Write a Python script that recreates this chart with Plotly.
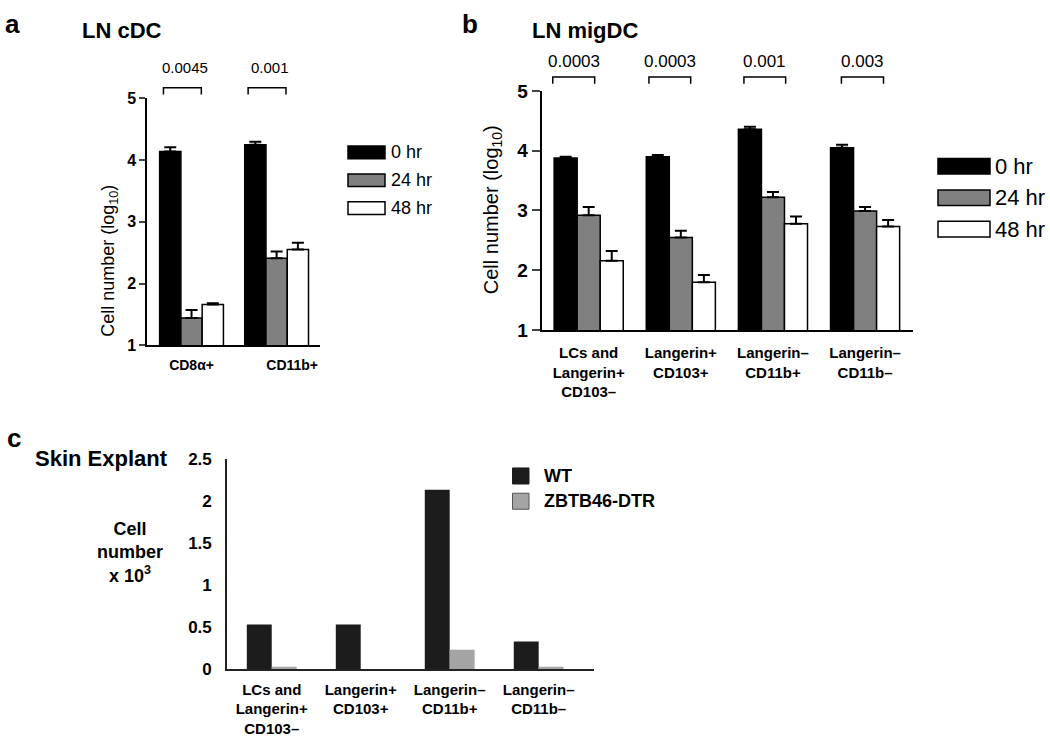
import plotly.graph_objects as go

W, H = 1050, 745
FONT = "Liberation Sans, Arial, sans-serif"

# ---------------- data ----------------
a_categories = ["CD8α+", "CD11b+"]
a_series = ["0 hr", "24 hr", "48 hr"]
a_values = {"0 hr": [4.14, 4.25], "24 hr": [1.44, 2.41], "48 hr": [1.66, 2.55]}
a_errors = {"0 hr": [0.07, 0.05], "24 hr": [0.13, 0.11], "48 hr": [0.02, 0.11]}
a_pvalues = ["0.0045", "0.001"]

b_categories = ["LCs and<br>Langerin+<br>CD103–", "Langerin+<br>CD103+",
                "Langerin–<br>CD11b+", "Langerin–<br>CD11b–"]
b_series = ["0 hr", "24 hr", "48 hr"]
b_values = {"0 hr": [3.88, 3.90, 4.36, 4.05],
            "24 hr": [2.92, 2.55, 3.22, 2.99],
            "48 hr": [2.16, 1.80, 2.78, 2.73]}
b_errors = {"0 hr": [0.02, 0.03, 0.04, 0.05],
            "24 hr": [0.14, 0.11, 0.09, 0.07],
            "48 hr": [0.16, 0.12, 0.12, 0.11]}
b_pvalues = ["0.0003", "0.0003", "0.001", "0.003"]

c_categories = ["LCs and<br>Langerin+<br>CD103–", "Langerin+<br>CD103+",
                "Langerin–<br>CD11b+", "Langerin–<br>CD11b–"]
c_series = ["WT", "ZBTB46-DTR"]
c_values = {"WT": [0.53, 0.53, 2.13, 0.33], "ZBTB46-DTR": [0.03, 0.0, 0.23, 0.03]}

y_ticks_log = [1, 2, 3, 4, 5]
y_ticks_c = [0, 0.5, 1, 1.5, 2, 2.5]
y_ticks_c_text = ["0", "0.5", "1", "1.5", "2", "2.5"]

# ---------------- styles ----------------
time_colors = {"0 hr": "#000000", "24 hr": "#808080", "48 hr": "#ffffff"}
c_colors = {"WT": "#1c1c1c", "ZBTB46-DTR": "#a4a4a4"}


def dom_x(x0, x1):
    return [x0 / W, x1 / W]


def dom_y(ytop, ybot):
    return [1 - ybot / H, 1 - ytop / H]


fig = go.Figure()

bw = 0.25
offs = [-0.375, -0.125, 0.125]
for i, s in enumerate(a_series):
    fig.add_trace(go.Bar(
        x=list(range(len(a_categories))), y=a_values[s], name=s,
        width=bw, offset=offs[i], xaxis="x", yaxis="y",
        marker=dict(color=time_colors[s], line=dict(color="black", width=1.5)),
        error_y=dict(type="data", array=a_errors[s], arrayminus=[0] * len(a_categories),
                     symmetric=False, color="black", thickness=2, width=6),
        showlegend=False))

for i, s in enumerate(b_series):
    fig.add_trace(go.Bar(
        x=list(range(len(b_categories))), y=b_values[s], name=s,
        width=bw, offset=offs[i], xaxis="x2", yaxis="y2",
        marker=dict(color=time_colors[s], line=dict(color="black", width=1.5)),
        error_y=dict(type="data", array=b_errors[s], arrayminus=[0] * len(b_categories),
                     symmetric=False, color="black", thickness=2, width=6),
        showlegend=False))

cw = 0.28
c_offs = [-0.28, 0.0]
for i, s in enumerate(c_series):
    fig.add_trace(go.Bar(
        x=list(range(len(c_categories))), y=c_values[s], name=s,
        width=cw, offset=c_offs[i], xaxis="x3", yaxis="y3",
        marker=dict(color=c_colors[s], line=dict(width=0)),
        showlegend=False))

axis_common = dict(showgrid=False, zeroline=False, showline=True, linecolor="black")

a_ticktext = [a_categories[0], "\u00a0" * 8 + a_categories[1]]

fig.update_layout(
    width=W, height=H, margin=dict(l=0, r=0, t=0, b=0),
    paper_bgcolor="white", plot_bgcolor="white",
    font=dict(family=FONT, color="black"),
    showlegend=False,
    xaxis=dict(domain=dom_x(147.3, 320), range=[-0.52, 1.51], anchor="y",
               tickmode="array", tickvals=list(range(len(a_categories))), ticktext=a_ticktext,
               ticks="", linewidth=2, ticklabelstandoff=6,
               tickfont=dict(size=14, weight="bold", family=FONT), **axis_common),
    yaxis=dict(domain=dom_y(91, 345), range=[1, 5], anchor="x",
               tickvals=y_ticks_log, ticks="outside", ticklen=6, tickwidth=2,
               linewidth=2, tickfont=dict(size=16, weight="bold", family=FONT), **axis_common),
    xaxis2=dict(domain=dom_x(541.7, 913), range=[-0.51, 3.52], anchor="y2",
                tickmode="array", tickvals=list(range(len(b_categories))), ticktext=b_categories,
                ticks="", linewidth=2, ticklabelstandoff=8,
                tickfont=dict(size=15, weight="bold", family=FONT), **axis_common),
    yaxis2=dict(domain=dom_y(83.3, 329.3), range=[1, 5], anchor="x2",
                tickvals=y_ticks_log, ticks="outside", ticklen=8, tickwidth=2,
                linewidth=2, tickfont=dict(size=19, weight="bold", family=FONT), **axis_common),
    xaxis3=dict(domain=dom_x(226.7, 594.3), range=[-0.506, 3.625], anchor="y3",
                tickmode="array", tickvals=list(range(len(c_categories))), ticktext=c_categories,
                ticks="", linewidth=1.5, linecolor="#222222", ticklabelstandoff=6,
                tickfont=dict(size=15, weight="bold", family=FONT),
                showgrid=False, zeroline=False, showline=True),
    yaxis3=dict(domain=dom_y(461.7, 678.3), range=[0, 2.5], anchor="x3",
                tickvals=y_ticks_c, ticktext=y_ticks_c_text, ticks="",
                ticklabelstandoff=10, linewidth=1.5, linecolor="#222222",
                tickfont=dict(size=17, weight="bold", family=FONT),
                showgrid=False, zeroline=False, showline=True),
)

annotations = []
shapes = []


def text(x, y, s, size, bold=False, xanchor="center", yanchor="middle", textangle=0):
    annotations.append(dict(x=x / W, y=1 - y / H, xref="paper", yref="paper", text=s,
                            showarrow=False, xanchor=xanchor, yanchor=yanchor,
                            textangle=textangle,
                            font=dict(size=size, family=FONT, color="black",
                                      weight="bold" if bold else "normal")))


# panel letters & titles
text(12, 14, "a", 26, bold=True)
text(470, 14, "b", 26, bold=True)
text(14, 440, "c", 26, bold=True)
text(80, 21, "LN cDC", 22, bold=True, xanchor="left")
text(530, 21, "LN migDC", 22, bold=True, xanchor="left")
text(33, 462, "Skin Explant", 22, bold=True, xanchor="left")

# y-axis titles
text(110, 258, "Cell number (log<sub>10</sub>)", 18, textangle=-90)
text(492, 206, "Cell number (log<sub>10</sub>)", 20, textangle=-90)
text(130, 558, "Cell<br>number<br>x 10<sup>3</sup>", 18, bold=True)

# p-value brackets panel a
a_br = [(-0.33, 0.115), (-0.335, 0.11)]
for i, (l, r) in enumerate(a_br):
    ytop, ybot = 1 - 80 / H, 1 - 87 / H
    shapes.append(dict(type="path", xref="x", yref="paper",
                       path=f"M {i + l} {ybot} L {i + l} {ytop} L {i + r} {ytop} L {i + r} {ybot}",
                       line=dict(color="black", width=1.5)))
    annotations.append(dict(x=i + (l + r) / 2 + 0.03, y=1 - 59 / H, xref="x", yref="paper",
                            text=a_pvalues[i], showarrow=False, xanchor="center",
                            yanchor="middle",
                            font=dict(size=15, family=FONT, color="black")))

# p-value brackets panel b
b_br = [(-0.39, 0.065), (-0.346, 0.107), (-0.315, 0.138), (-0.257, 0.2)]
for i, (l, r) in enumerate(b_br):
    ytop, ybot = 1 - 69 / H, 1 - 76 / H
    shapes.append(dict(type="path", xref="x2", yref="paper",
                       path=f"M {i + l} {ybot} L {i + l} {ytop} L {i + r} {ytop} L {i + r} {ybot}",
                       line=dict(color="black", width=1.5)))
    annotations.append(dict(x=i + (l + r) / 2, y=1 - 53 / H, xref="x2", yref="paper",
                            text=b_pvalues[i], showarrow=False, xanchor="center",
                            yanchor="middle",
                            font=dict(size=17, family=FONT, color="black")))


def legend_box(x0, x1, yc, h, fill, line_col, lw):
    shapes.append(dict(type="rect", xref="paper", yref="paper",
                       x0=x0 / W, x1=x1 / W, y0=1 - (yc + h / 2) / H, y1=1 - (yc - h / 2) / H,
                       fillcolor=fill, line=dict(color=line_col, width=lw)))


for i, s in enumerate(a_series):
    yc = 146.5 + i * 28.7
    legend_box(348, 385, yc, 13, time_colors[s], "black", 1.5)
    text(389, yc, s, 18, xanchor="left")

for i, s in enumerate(b_series):
    yc = 160.7 + i * 32.4
    legend_box(938, 990, yc, 16, time_colors[s], "black", 1.5)
    text(993, yc, s, 22, xanchor="left")

c_legend_lines = {"WT": "#1c1c1c", "ZBTB46-DTR": "#555555"}
for i, s in enumerate(c_series):
    yc = 479.5 + i * 26
    legend_box(512.5, 529, yc, 16.5, c_colors[s], c_legend_lines[s], 1)
    text(542, yc, s, 18, bold=True, xanchor="left")

fig.update_layout(annotations=annotations, shapes=shapes)
fig.write_html("out.html",
               config={"displayModeBar": False, "staticPlot": True},
               post_script="document.body.style.margin='0';document.body.style.overflow='hidden';")
